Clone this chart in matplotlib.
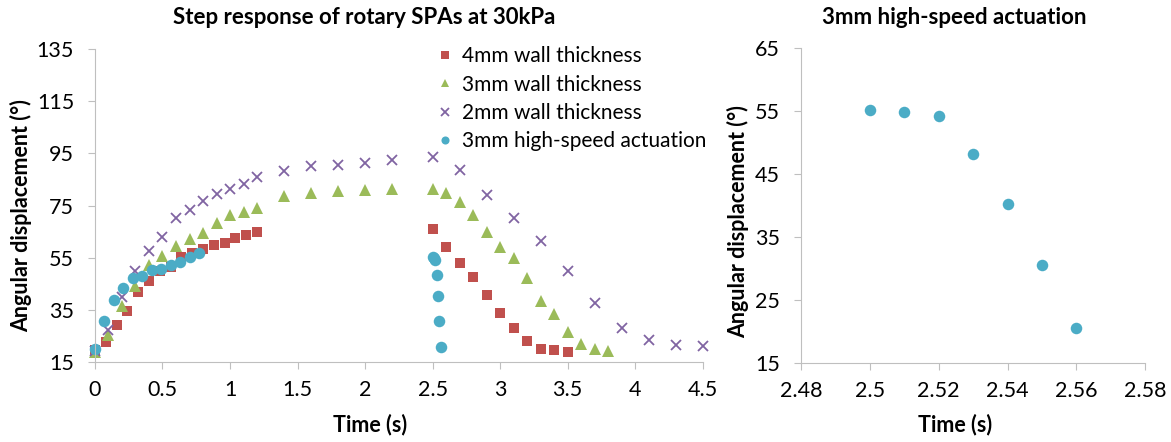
import numpy as np
import matplotlib.pyplot as plt

plt.rcParams['font.family'] = ['Lato', 'DejaVu Sans']

# 4mm wall thickness
t_4mm = [0, 0.08, 0.16, 0.24, 0.32, 0.40, 0.48, 0.56, 0.64, 0.72, 0.80, 0.88, 0.96, 1.04, 1.12, 1.20,
         2.5, 2.6, 2.7, 2.8, 2.9, 3.0, 3.1, 3.2, 3.3, 3.4, 3.5]
y_4mm = [19.5, 22.7, 29.1, 34.6, 41.7, 45.9, 49.9, 51.4, 55.2, 56.7, 58.2, 59.9, 60.5, 62.4, 63.7, 65.0,
         66.1, 59.2, 53.1, 47.7, 40.6, 33.8, 28.2, 23.1, 19.9, 19.5, 18.8]
# 3mm wall thickness
t_3mm = [0, 0.1, 0.2, 0.3, 0.4, 0.5, 0.6, 0.7, 0.8, 0.9, 1.0, 1.1, 1.2, 1.4, 1.6, 1.8, 2.0, 2.2,
         2.5, 2.6, 2.7, 2.8, 2.9, 3.0, 3.1, 3.2, 3.3, 3.4, 3.5, 3.6, 3.7, 3.8]
y_3mm = [19.0, 25.3, 36.5, 44.2, 52.2, 55.8, 59.5, 62.1, 64.4, 68.2, 71.4, 72.7, 74.0, 78.5, 79.8, 80.4, 81.0, 81.5,
         81.3, 79.8, 76.3, 71.4, 65.0, 59.0, 54.8, 47.3, 38.3, 33.3, 26.5, 21.8, 19.8, 19.2]
# 2mm wall thickness
t_2mm = [0, 0.1, 0.2, 0.3, 0.4, 0.5, 0.6, 0.7, 0.8, 0.9, 1.0, 1.1, 1.2, 1.4, 1.6, 1.8, 2.0, 2.2,
         2.5, 2.7, 2.9, 3.1, 3.3, 3.5, 3.7, 3.9, 4.1, 4.3, 4.5]
y_2mm = [19.2, 27.2, 40.0, 50.0, 57.7, 63.1, 70.2, 73.3, 76.9, 79.5, 81.4, 83.3, 85.9, 88.1, 90.0, 90.7, 91.5, 92.5,
         93.8, 88.7, 79.1, 70.4, 61.4, 49.9, 37.8, 28.1, 23.3, 21.4, 21.2]
# 3mm high-speed actuation
t_hs = [0, 0.07, 0.14, 0.21, 0.28, 0.35, 0.42, 0.49, 0.56, 0.63, 0.70, 0.77,
        2.50, 2.51, 2.52, 2.53, 2.54, 2.55, 2.56]
y_hs = [19.8, 30.7, 38.7, 43.5, 47.3, 48.1, 50.3, 50.8, 52.2, 53.5, 55.2, 56.7,
        55.1, 54.8, 54.3, 48.2, 40.3, 30.6, 20.6]
# zoomed release of high-speed actuation
t_zoom = [2.50, 2.51, 2.52, 2.53, 2.54, 2.55, 2.56]
y_zoom = [55.1, 54.8, 54.3, 48.2, 40.3, 30.6, 20.6]

red = '#C0504D'
green = '#9BBB59'
purple = '#8064A2'
blue = '#4BACC6'
axcol = '#BFBFBF'

fig = plt.figure(figsize=(11.71, 4.42), dpi=100)
ax1 = fig.add_axes([0.0811, 0.181, 0.519, 0.708])
ax2 = fig.add_axes([0.684, 0.179, 0.294, 0.712])


def style(ax):
    for s in ['top', 'right']:
        ax.spines[s].set_visible(False)
    for s in ['left', 'bottom']:
        ax.spines[s].set_color(axcol)
    ax.tick_params(axis='both', colors=axcol, labelcolor='black', labelsize=15.5,
                   length=5, direction='out')
    ax.tick_params(axis='y', pad=10)
    ax.tick_params(axis='x', pad=8)


ax1.plot(t_4mm, y_4mm, 's', color=red, ms=7.5, mew=0, label='4mm wall thickness', clip_on=False)
ax1.plot(t_3mm, y_3mm, '^', color=green, ms=8.3, mew=0, label='3mm wall thickness', clip_on=False)
ax1.plot(t_2mm, y_2mm, 'x', color=purple, ms=7.5, mew=1.3, label='2mm wall thickness', clip_on=False)
ax1.plot(t_hs, y_hs, 'o', color=blue, ms=8.3, mew=0, label='3mm high-speed actuation', clip_on=False)
ax1.set_xlim(0, 4.5)
ax1.set_ylim(15, 135)
ax1.set_xticks(np.arange(0, 4.51, 0.5))
ax1.set_xticklabels(['0', '0.5', '1', '1.5', '2', '2.5', '3', '3.5', '4', '4.5'])
ax1.set_yticks(np.arange(15, 136, 20))
style(ax1)
ax1.set_ylabel('Angular displacement (°)', fontsize=15.5, fontweight='bold', labelpad=3)
ax1.yaxis.label.set_y(0.468)
ax1.legend(loc='upper left', bbox_to_anchor=(0.548, 1.035), frameon=False, fontsize=15,
           markerscale=0.7, handlelength=0.8, handletextpad=0.45, labelspacing=0.4,
           borderaxespad=0)

ax2.plot(t_zoom, y_zoom, 'o', color=blue, ms=8.3, mew=0, clip_on=False)
ax2.set_xlim(2.48, 2.58)
ax2.set_ylim(15, 65)
ax2.set_xticks(np.arange(2.48, 2.581, 0.02))
ax2.set_xticklabels(['2.48', '2.5', '2.52', '2.54', '2.56', '2.58'])
ax2.set_yticks(np.arange(15, 66, 10))
style(ax2)
ax2.set_ylabel('Angular displacement (°)', fontsize=15.5, fontweight='bold')
ax2.yaxis.set_label_coords(-0.15, 0.45)

fig.text(364 / 1171, 1 - 18 / 442, 'Step response of rotary SPAs at 30kPa', ha='center', va='center',
         fontsize=16, fontweight='bold')
fig.text(954 / 1171, 1 - 18 / 442, '3mm high-speed actuation', ha='center', va='center',
         fontsize=16, fontweight='bold')
fig.text(370 / 1171, 1 - 425 / 442, 'Time (s)', ha='center', va='center', fontsize=15.5, fontweight='bold')
fig.text(955 / 1171, 1 - 425 / 442, 'Time (s)', ha='center', va='center', fontsize=15.5, fontweight='bold')

fig.savefig('out.png', dpi=100)
